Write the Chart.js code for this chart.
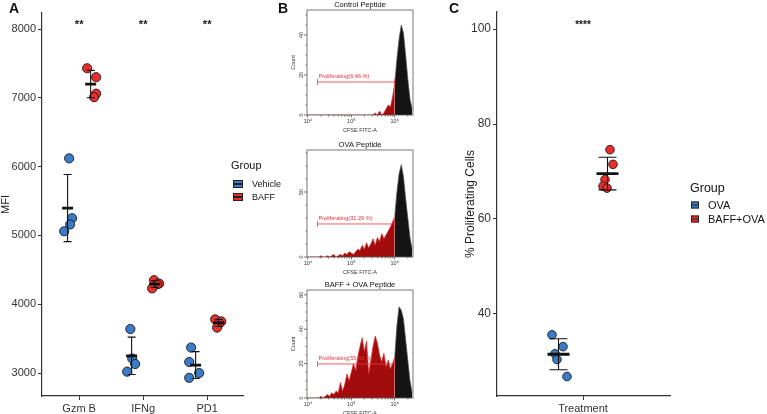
<!DOCTYPE html>
<html>
<head>
<meta charset="utf-8">
<script src="https://cdn.jsdelivr.net/npm/chart.js@4"></script>
<style>
  body { margin: 0; background: #fff; }
  #wrap { position: relative; width: 767px; height: 414px; font-family: 'Liberation Sans', Arial, sans-serif; color: #111; }
  canvas { position: absolute; left: 0; top: 0; }
  .t { position: absolute; white-space: nowrap; transform: translateY(-50%); line-height: 1; }
  .key { position: absolute; box-sizing: border-box; border: 1px solid #222; transform: translateY(-50%); }
  .key::after { content: ''; position: absolute; left: 0; right: 0; top: 50%; height: 1.4px; margin-top: -0.7px; background: #222; }
</style>
</head>
<body>
<div id="wrap">
  <canvas id="chartA" width="767" height="414"></canvas>
  <canvas id="histCtrl" width="767" height="414"></canvas>
  <canvas id="histOva" width="767" height="414"></canvas>
  <canvas id="histBaff" width="767" height="414"></canvas>
  <canvas id="chartC" width="767" height="414"></canvas>

  <div class="t" style="left:9px;top:8px;font-weight:bold;font-size:14px;">A</div>
  <div class="t" style="left:278px;top:8px;font-weight:bold;font-size:14px;">B</div>
  <div class="t" style="left:449px;top:8px;font-weight:bold;font-size:14px;">C</div>

  <div class="t" style="left:231px;top:165px;font-size:11px;">Group</div>
  <div class="key" style="left:233px;top:184px;width:10px;height:8px;background:#3a7cc8;"></div>
  <div class="t" style="left:252px;top:184px;font-size:9px;">Vehicle</div>
  <div class="key" style="left:233px;top:197px;width:10px;height:8px;background:#ec2d2d;"></div>
  <div class="t" style="left:252px;top:197px;font-size:9px;">BAFF</div>

  <div class="t" style="left:690px;top:188px;font-size:12.5px;">Group</div>
  <div class="key" style="left:691px;top:205px;width:8px;height:7px;background:#3a7cc8;"></div>
  <div class="t" style="left:708px;top:205px;font-size:11px;">OVA</div>
  <div class="key" style="left:691px;top:219px;width:8px;height:7px;background:#ec2d2d;"></div>
  <div class="t" style="left:708px;top:219px;font-size:11px;">BAFF+OVA</div>
</div>
<script>
const FONT = "'Liberation Sans', Arial, sans-serif";
const BLUE = '#3a7cc8';
const RED = '#ec2d2d';

// ---- panel A data
const catsA = ['Gzm B', 'IFNg', 'PD1'];
const vehicleA = [[6120, 5250, 5160, 5060], [3640, 3210, 3130, 3020], [3370, 3160, 3000, 2930]];
const baffA = [[7430, 7300, 7060, 7010], [4350, 4300, 4290, 4230], [3780, 3750, 3720, 3660]];
const ticksA = [3000, 4000, 5000, 6000, 7000, 8000];
const starsA = ['**', '**', '**'];

// ---- panel B data (CFSE histograms, x in log10 units)
const cfseBins = [4.00, 4.05, 4.10, 4.15, 4.20, 4.25, 4.30, 4.35, 4.40, 4.45,
  4.50, 4.55, 4.60, 4.65, 4.70, 4.75, 4.80, 4.85, 4.90, 4.95,
  5.00, 5.05, 5.10, 5.15, 5.20, 5.25, 5.30, 5.35, 5.40, 5.45,
  5.50, 5.55, 5.60, 5.65, 5.70, 5.75, 5.80, 5.85, 5.90, 5.95,
  6.00, 6.05, 6.10, 6.15, 6.20, 6.25, 6.30, 6.35, 6.40];
const countsCtrl = [0, 0, 0, 0, 0, 0, 0, 0, 0, 0,
  0, 0, 0, 0, 0, 0, 0, 0, 0, 0,
  0, 0, 0, 0, 0, 0, 0, 0, 0, 0,
  0, 1, 0, 2, 0, 1, 3, 5, 4, 9,
  16, 28, 38, 45, 41, 30, 18, 8, 3];
const countsOva = [0, 0, 0, 0, 0, 0, 1, 0, 0, 1,
  0, 1, 2, 0, 1, 2, 1, 3, 2, 4,
  3, 2, 4, 6, 5, 9, 6, 11, 7, 10,
  14, 9, 15, 12, 18, 14, 17, 20, 23, 27,
  31, 50, 64, 71, 62, 45, 30, 15, 6];
const countsBaff = [0, 0, 0, 0, 0, 0, 1, 0, 1, 2,
  1, 3, 2, 4, 3, 9, 4, 8, 14, 10,
  15, 20, 16, 24, 30, 35, 27, 33, 14, 22,
  30, 36, 32, 25, 21, 26, 18, 22, 17, 20,
  24, 42, 53, 51, 46, 34, 22, 10, 3];
const cfseTicks = [4, 5, 6];
const cfseTickLabels = ['10\u2074', '10\u2075', '10\u2076'];
const gateFrom = 4.22;
const gateTo = 6.0;

// ---- panel C data
const ovaC = [35.6, 33.1, 31.6, 30.4, 26.8];
const baffOvaC = [74.6, 71.5, 68.3, 66.9, 66.5];
const ticksC = [40, 60, 80, 100];

// point jitter (x offsets in category units)
const jitVehicleA = [[0.024, 0.07, 0.04, -0.054], [-0.02, 0.01, 0.055, -0.07], [-0.07, -0.1, 0.055, -0.1]];
const jitBaffA = [[-0.055, 0.086, 0.086, 0.054], [-0.01, 0.07, 0.04, -0.04], [-0.055, 0.04, 0.01, -0.025]];
const jitOvaC = [-0.065, 0.045, -0.035, -0.015, 0.085];
const jitBaffOvaC = [0.025, 0.055, -0.025, -0.045, -0.005];

function meanSd(v) {
  const m = v.reduce((a, b) => a + b, 0) / v.length;
  const sd = Math.sqrt(v.reduce((a, b) => a + (b - m) * (b - m), 0) / (v.length - 1));
  return { m, sd };
}

function errorData(groups, capHalf, meanHalf) {
  const bars = [], means = [];
  groups.forEach(({ x, vals }) => {
    const { m, sd } = meanSd(vals);
    bars.push({ x, y: m - sd }, { x, y: m + sd }, { x, y: null },
      { x: x - capHalf, y: m + sd }, { x: x + capHalf, y: m + sd }, { x, y: null },
      { x: x - capHalf, y: m - sd }, { x: x + capHalf, y: m - sd }, { x, y: null });
    means.push({ x: x - meanHalf, y: m }, { x: x + meanHalf, y: m }, { x, y: null });
  });
  return { bars, means };
}

const lineSet = (data, width) => ({
  data, showLine: true, borderColor: '#111', borderWidth: width, pointRadius: 0, spanGaps: false, order: 0
});
const dotSet = (data, color, r) => ({
  data, backgroundColor: color, borderColor: '#1a1a1a', borderWidth: 0.9, pointRadius: r, order: 1
});

const axisStyle = (size) => ({
  grid: { display: true, drawOnChartArea: false, drawTicks: true, tickLength: 4, color: '#333', lineWidth: 1 },
  border: { display: true, color: '#333', width: 1.2 },
  ticks: { font: { family: FONT, size }, color: '#333', padding: 2, maxRotation: 0, autoSkip: false, callback: (v) => String(v) }
});

const starsPlugin = {
  id: 'stars',
  afterDatasetsDraw(chart, args, o) {
    const { ctx, scales: { x, y } } = chart;
    ctx.save();
    ctx.font = `bold ${o.size}px ${FONT}`;
    ctx.textAlign = 'center';
    ctx.textBaseline = 'middle';
    ctx.fillStyle = '#111';
    o.labels.forEach((s, i) => ctx.fillText(s, x.getPixelForValue(i + 1), y.top + o.dy));
    ctx.restore();
  }
};

// ---- panel A
const dodgeA = 0.18;
const errA = errorData(
  catsA.flatMap((c, i) => [
    { x: i + 1 - dodgeA, vals: vehicleA[i] },
    { x: i + 1 + dodgeA, vals: baffA[i] }
  ]), 0.0625, 0.086);

const ptsA = (vals, jit, dx) => vals.flatMap((g, i) => g.map((v, j) => ({ x: i + 1 + dx + jit[i][j], y: v })));

const axA = axisStyle(11);
new Chart(document.getElementById('chartA'), {
  type: 'scatter',
  data: {
    datasets: [
      lineSet(errA.means, 2.8),
      lineSet(errA.bars, 1.1),
      dotSet(ptsA(vehicleA, jitVehicleA, -dodgeA), BLUE, 4.6),
      dotSet(ptsA(baffA, jitBaffA, dodgeA), RED, 4.6)
    ]
  },
  options: {
    responsive: false, animation: false,
    layout: { padding: { left: 0, top: 13, right: 524, bottom: 0 } },
    plugins: { legend: { display: false }, tooltip: { enabled: false }, stars: { labels: starsA, size: 11, dy: 12 } },
    scales: {
      x: {
        type: 'linear', min: 0.42, max: 3.56,
        afterBuildTicks: (s) => { s.ticks = catsA.map((c, i) => ({ value: i + 1 })); },
        afterFit: (s) => { s.height = 18; },
        grid: axA.grid, border: axA.border,
        ticks: { ...axA.ticks, callback: (v, i) => catsA[i] }
      },
      y: {
        min: 2666, max: 8233,
        afterBuildTicks: (s) => { s.ticks = ticksA.map(v => ({ value: v })); },
        afterFit: (s) => { s.width = 42; },
        grid: axA.grid, border: axA.border, ticks: axA.ticks,
        title: { display: true, text: 'MFI', color: '#222', padding: 0, font: { family: FONT, size: 11, lineHeight: 1 } }
      }
    }
  },
  plugins: [starsPlugin]
});

// ---- panel B
const histPlugin = {
  id: 'histFrame',
  afterDatasetsDraw(chart, args, o) {
    const { ctx, chartArea: a, scales: { x, y } } = chart;
    const seg = (x1, y1, x2, y2) => { ctx.beginPath(); ctx.moveTo(x1, y1); ctx.lineTo(x2, y2); ctx.stroke(); };
    ctx.save();
    ctx.strokeStyle = '#555';
    ctx.lineWidth = 0.8;
    ctx.strokeRect(a.left, a.top, a.right - a.left, a.bottom - a.top);
    for (let v = 0; v <= y.max; v += o.minor) {
      const py = y.getPixelForValue(v);
      seg(a.left - (o.ticks.includes(v) ? 3 : 1.5), py, a.left, py);
    }
    for (let d = 3; d <= 6; d++) {
      for (let k = 2; k <= 9; k++) {
        const lv = d + Math.log10(k);
        if (lv > x.min && lv < x.max) {
          const px = x.getPixelForValue(lv);
          seg(px, a.bottom, px, a.bottom + 1.5);
        }
      }
    }
    ctx.fillStyle = '#333';
    ctx.font = `5.5px ${FONT}`;
    ctx.textAlign = 'center';
    ctx.textBaseline = 'middle';
    o.ticks.forEach(v => {
      ctx.save();
      ctx.translate(a.left - 6, y.getPixelForValue(v));
      ctx.rotate(-Math.PI / 2);
      ctx.fillText(String(v), 0, 0);
      ctx.restore();
    });
    if (o.count) {
      ctx.save();
      ctx.translate(a.left - 14, (a.top + a.bottom) / 2);
      ctx.rotate(-Math.PI / 2);
      ctx.fillText('Count', 0, 0);
      ctx.restore();
    }
    ctx.fillStyle = '#111';
    ctx.font = `7.5px ${FONT}`;
    ctx.fillText(o.title, (a.left + a.right) / 2, a.top - 5.5);
    ctx.fillStyle = '#e8333c';
    ctx.font = `5.6px ${FONT}`;
    ctx.textAlign = 'left';
    ctx.fillText(o.gateLabel, x.getPixelForValue(gateFrom) + 1, y.getPixelForValue(o.gate) - 5.5);
    ctx.restore();
  }
};

function makeHist(id, counts, box, yMax, yTicks, minor, gate, gateLabel, title, count) {
  const pts = cfseBins.map((b, i) => ({ x: b, y: counts[i] }));
  new Chart(document.getElementById(id), {
    type: 'scatter',
    data: {
      datasets: [
        {
          data: [{ x: gateFrom, y: gate }, { x: gateTo, y: gate }], showLine: true,
          borderColor: '#e8333c', borderWidth: 0.8, pointStyle: 'line', rotation: 90,
          pointRadius: 3, pointBorderColor: '#e8333c', pointBorderWidth: 0.8, order: 0
        },
        {
          data: pts.filter(p => p.x <= gateTo), showLine: true, fill: 'origin',
          backgroundColor: '#a30c0c', borderColor: '#e3262b', borderWidth: 0.7, pointRadius: 0, order: 1
        },
        {
          data: pts.filter(p => p.x >= gateTo), showLine: true, fill: 'origin',
          backgroundColor: '#141414', borderColor: '#4a4a4a', borderWidth: 0.7, pointRadius: 0, order: 1
        }
      ]
    },
    options: {
      responsive: false, animation: false,
      layout: { padding: { left: 307, right: 354, top: box[0], bottom: 414 - box[1] - 18 } },
      plugins: {
        legend: { display: false }, tooltip: { enabled: false },
        histFrame: { ticks: yTicks, minor, gate, gateLabel, title, count }
      },
      scales: {
        x: {
          type: 'linear', min: 3.98, max: 6.42,
          afterBuildTicks: (s) => { s.ticks = cfseTicks.map(v => ({ value: v })); },
          afterFit: (s) => { s.height = 18; },
          grid: { drawOnChartArea: false, tickLength: 2.5, color: '#555', lineWidth: 0.8 },
          border: { display: false },
          ticks: { callback: (v, i) => cfseTickLabels[i], font: { family: FONT, size: 5.5 }, color: '#333', padding: 1, maxRotation: 0 },
          title: { display: true, text: 'CFSE FITC-A', color: '#333', padding: 0, font: { family: FONT, size: 5.5, lineHeight: 1 } }
        },
        y: { display: false, min: 0, max: yMax }
      }
    },
    plugins: [histPlugin]
  });
}

makeHist('histCtrl', countsCtrl, [10, 115], 52.5, [0, 20, 40], 5, 16.5, 'Proliferating(6.46 %)', 'Control Peptide', true);
makeHist('histOva', countsOva, [150, 257], 82.3, [0, 50], 10, 25.4, 'Proliferating(31.29 %)', 'OVA Peptide', false);
makeHist('histBaff', countsBaff, [290, 398], 62.8, [0, 20, 40, 60], 5, 19.8, 'Proliferating(55.60 %)', 'BAFF + OVA Peptide', true);

// ---- panel C
const dodgeC = 0.245;
const errC = errorData([{ x: 1 - dodgeC, vals: ovaC }, { x: 1 + dodgeC, vals: baffOvaC }], 0.09, 0.11);
const ptsC = (vals, jit, dx) => vals.map((v, j) => ({ x: 1 + dx + jit[j], y: v }));

const axC = axisStyle(12);
new Chart(document.getElementById('chartC'), {
  type: 'scatter',
  data: {
    datasets: [
      lineSet(errC.means, 2.8),
      lineSet(errC.bars, 1.1),
      dotSet(ptsC(ovaC, jitOvaC, -dodgeC), BLUE, 4.3),
      dotSet(ptsC(baffOvaC, jitBaffOvaC, dodgeC), RED, 4.3)
    ]
  },
  options: {
    responsive: false, animation: false,
    layout: { padding: { left: 465, top: 12, right: 97, bottom: 0 } },
    plugins: { legend: { display: false }, tooltip: { enabled: false }, stars: { labels: ['****'], size: 10, dy: 13 } },
    scales: {
      x: {
        type: 'linear', min: 0.14, max: 1.87,
        afterBuildTicks: (s) => { s.ticks = [{ value: 1 }]; },
        afterFit: (s) => { s.height = 18; },
        grid: axC.grid, border: axC.border,
        ticks: { ...axC.ticks, font: { family: FONT, size: 11 }, callback: () => 'Treatment' }
      },
      y: {
        min: 22.7, max: 103.6,
        afterBuildTicks: (s) => { s.ticks = ticksC.map(v => ({ value: v })); },
        afterFit: (s) => { s.width = 32; },
        grid: axC.grid, border: axC.border, ticks: axC.ticks,
        title: { display: true, text: '% Proliferating Cells', color: '#222', padding: 0, font: { family: FONT, size: 12, lineHeight: 1 } }
      }
    }
  },
  plugins: [starsPlugin]
});
</script>
</body>
</html>
